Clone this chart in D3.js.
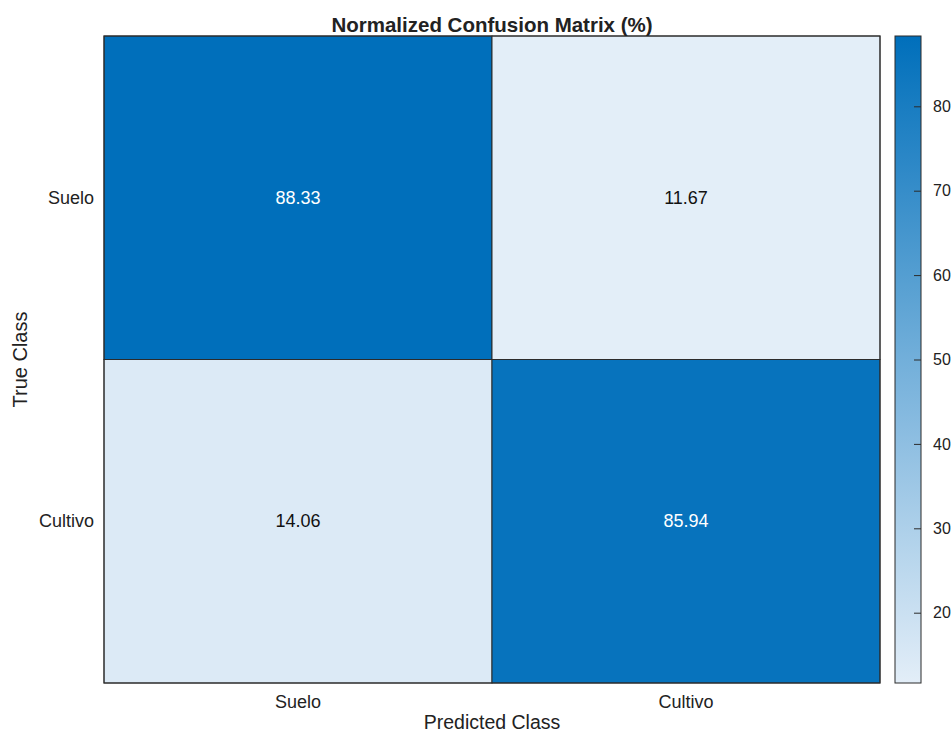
<!DOCTYPE html>
<html>
<head>
<meta charset="utf-8">
<script src="https://cdn.jsdelivr.net/npm/d3@7"></script>
<style>
  body { margin: 0; background: #fff; }
  text { font-family: "Liberation Sans", Arial, Helvetica, sans-serif; }
</style>
</head>
<body>
<svg id="chart" width="952" height="735"></svg>
<script>
const trueClasses = ["Suelo", "Cultivo"];
const predClasses = ["Suelo", "Cultivo"];
const rowSuelo = [88.33, 11.67];
const rowCultivo = [14.06, 85.94];
const colorbarTicks = [20, 30, 40, 50, 60, 70, 80];
const titleText = "Normalized Confusion Matrix (%)";
const xLabel = "Predicted Class";
const yLabel = "True Class";

const rows = [rowSuelo, rowCultivo];
const cells = [];
rows.forEach((r, i) => r.forEach((v, j) => cells.push({ t: trueClasses[i], p: predClasses[j], v })));

const svg = d3.select("#chart");
const m = { left: 104, top: 36, right: 880, bottom: 683 };

const x = d3.scaleBand().domain(predClasses).range([m.left, m.right]);
const y = d3.scaleBand().domain(trueClasses).range([m.top, m.bottom]);

const vmin = d3.min(cells, d => d.v), vmax = d3.max(cells, d => d.v);
const color = d3.scaleLinear().domain([vmin, vmax]).range(["#e3eef8", "#006fbb"]).interpolate(d3.interpolateRgb);

svg.append("g").selectAll("rect").data(cells).join("rect")
  .attr("x", d => x(d.p)).attr("y", d => y(d.t))
  .attr("width", x.bandwidth()).attr("height", y.bandwidth())
  .attr("fill", d => color(d.v))
  .attr("stroke", "#2b2b2b").attr("stroke-width", 1);

svg.append("g").selectAll("text").data(cells).join("text")
  .attr("x", d => x(d.p) + x.bandwidth() / 2)
  .attr("y", d => y(d.t) + y.bandwidth() / 2)
  .attr("text-anchor", "middle").attr("dominant-baseline", "central")
  .attr("font-size", 18)
  .attr("fill", d => (d.v - vmin) / (vmax - vmin) > 0.5 ? "#ffffff" : "#111111")
  .text(d => d.v.toFixed(2));

// outer frame
svg.append("rect").attr("x", m.left).attr("y", m.top)
  .attr("width", m.right - m.left).attr("height", m.bottom - m.top)
  .attr("fill", "none").attr("stroke", "#2b2b2b").attr("stroke-width", 1);

// x axis labels
const xAxis = d3.axisBottom(x).tickSize(0).tickPadding(12);
const gx = svg.append("g").attr("transform", `translate(0,${m.bottom})`).call(xAxis);
gx.select(".domain").remove();
gx.selectAll("text").attr("font-size", 18).attr("fill", "#222").attr("font-family", "Liberation Sans, Arial, sans-serif");

const yAxis = d3.axisLeft(y).tickSize(0).tickPadding(10);
const gy = svg.append("g").attr("transform", `translate(${m.left},0)`).call(yAxis);
gy.select(".domain").remove();
gy.selectAll("text").attr("font-size", 18).attr("fill", "#222").attr("font-family", "Liberation Sans, Arial, sans-serif");

// title
svg.append("text").attr("x", (m.left + m.right) / 2).attr("y", 32)
  .attr("text-anchor", "middle").attr("font-size", 20.5).attr("font-weight", "bold")
  .attr("fill", "#222").text(titleText);

svg.append("text").attr("x", (m.left + m.right) / 2).attr("y", 729)
  .attr("text-anchor", "middle").attr("font-size", 19.5).attr("fill", "#222").text(xLabel);

svg.append("text").attr("transform", `translate(27,${(m.top + m.bottom) / 2}) rotate(-90)`)
  .attr("text-anchor", "middle").attr("font-size", 20).attr("fill", "#222").text(yLabel);

// colorbar
const cb = { x0: 895, x1: 921 };
const cbScale = d3.scaleLinear().domain([vmin, vmax]).range([m.bottom, m.top]);
const defs = svg.append("defs");
const grad = defs.append("linearGradient").attr("id", "cbgrad")
  .attr("x1", 0).attr("y1", 1).attr("x2", 0).attr("y2", 0);
d3.range(0, 1.0001, 0.1).forEach(t => {
  grad.append("stop").attr("offset", t).attr("stop-color", color(vmin + t * (vmax - vmin)));
});
svg.append("rect").attr("x", cb.x0).attr("y", m.top)
  .attr("width", cb.x1 - cb.x0).attr("height", m.bottom - m.top)
  .attr("fill", "url(#cbgrad)").attr("stroke", "#2b2b2b").attr("stroke-width", 1);

const cbAxis = d3.axisRight(cbScale).tickValues(colorbarTicks).tickSize(-7).tickPadding(12);
const gcb = svg.append("g").attr("transform", `translate(${cb.x1},0)`).call(cbAxis);
gcb.select(".domain").remove();
gcb.selectAll("line").attr("stroke", "#2b2b2b");
gcb.selectAll("text").attr("font-size", 16).attr("fill", "#222").attr("font-family", "Liberation Sans, Arial, sans-serif");
</script>
</body>
</html>
